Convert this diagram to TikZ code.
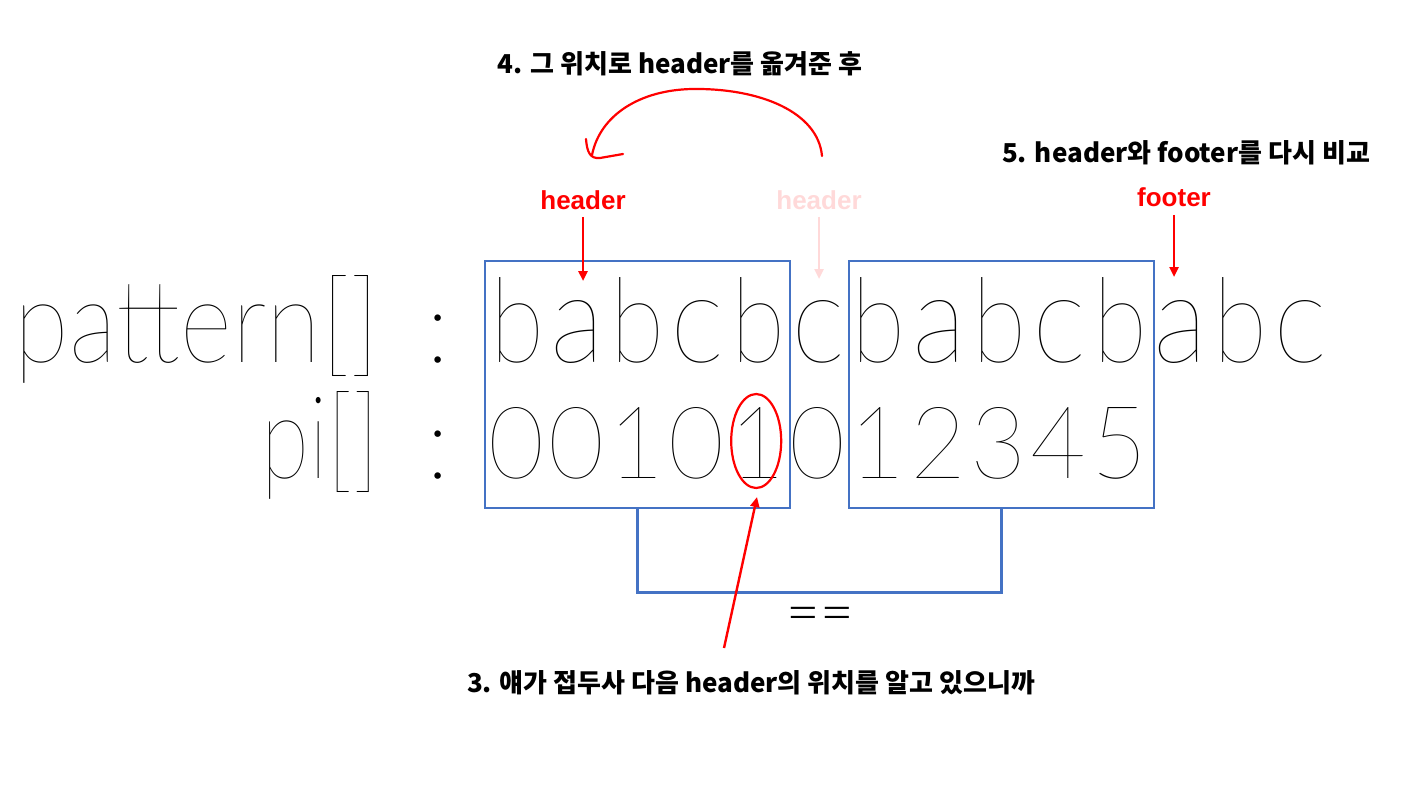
\documentclass[tikz,border=0pt]{standalone}
\usepackage{fontspec}
\usetikzlibrary{arrows.meta}
\IfFontExistsTF{Lato Thin}{\def\thinname{Lato Thin}}{%
  \IfFontExistsTF{Lato Hairline}{\def\thinname{Lato Hairline}}{\def\thinname{Lato Light}}}
\IfFontExistsTF{Lato Light}{\def\lightname{Lato Light}}{\def\lightname{\thinname}}
\newfontfamily\thinfont{\thinname}
\newfontfamily\lightfont{\lightname}
\newfontfamily\kofont{Noto Sans CJK KR}
\setsansfont{Liberation Sans}
\definecolor{boxblue}{HTML}{4472C4}
\definecolor{penred}{HTML}{FF0000}
\definecolor{palered}{HTML}{FFD9D9}
\def\pitch{60.3}
% glyph boxed to a given width and height
\newcommand\sized[3]{\resizebox{#1pt}{#2pt}{#3}}
\tikzset{
big/.style={font=\thinfont\fontsize{100}{100}\selectfont, inner sep=0pt, anchor=base},
note/.style={font=\kofont\bfseries\fontsize{26}{26}\selectfont, inner sep=0pt},
tag/.style={font=\sffamily\bfseries\fontsize{26}{26}\selectfont, text=#1, inner sep=0pt},
pointer/.style={draw=#1, line width=2.4pt, -{Triangle[length=10pt,width=9pt]}},
window/.style={draw=boxblue, line width=2.6pt, minimum width=305pt, minimum height=247pt},
pen/.style={draw=penred, line width=2.2pt, line cap=round, line join=round},
}
\begin{document}
\begin{tikzpicture}[x=1pt, y=-1pt]
	\useasboundingbox (0,0) rectangle (1407,790);
	
	% row labels
	\node[big, anchor=base east] (patlbl) at (379,362) {\sized{364}{87}{pattern[]}};
	\node[big, anchor=base east] (pilbl) at (379,478) {\sized{117}{87}{pi[]}};
	\node[big] (colA) at (438,362) {:};
	\node[big] (colB) at (438,478) {:};
	
	% pattern and pi values
	\foreach \c/\h [count=\i from 0] in {b/85,a/62,b/85,c/62,b/85,c/62,b/85,a/62,b/85,c/62,b/85,a/62,b/85,c/62}
		\node[big] (p\i) at ({517+\pitch*\i},362) {\sized{54}{\h}{\c}};
	\foreach \d [count=\i from 0] in {0,0,1,0,1,0,1,2,3,4,5}
		\node[big] (d\i) at ({516+\pitch*\i},478) {\sized{56}{71}{\d}};
	
	% compared windows
	\node[window] (win1) at (637.5,384.5) {};
	\node[window] (win2) at (1001.5,384.5) {};
	\draw[draw=boxblue, line width=2.6pt] (win1.south) -- ++(0,83) coordinate (bend) -| (win2.south);
	\node[font=\lightfont\fontsize{58}{58}\selectfont, inner sep=0pt] (eq) at (820,620) {==};
	
	% header / footer markers
	\node[tag=penred] (hdr) at (583,200) {header};
	\node[tag=palered] (oldhdr) at (819,200) {header};
	\node[tag=penred] (ftr) at (1174,197) {footer};
	\coordinate (hdrtip) at (583,281);
	\coordinate (oldtip) at (819,279);
	\coordinate (ftrtip) at (1174,277);
	\draw[pointer=penred, shorten <=7pt] (hdr.south) -- (hdrtip);
	\draw[pointer=palered, shorten <=7pt] (oldhdr.south) -- (oldtip);
	\draw[pointer=penred, shorten <=8pt] (ftr.south) -- (ftrtip);
	
	% step notes
	\node[note] (step4) at (680,64) {4. 그 위치로 header를 옮겨준 후};
	\node[note] (step5) at (1186,153) {5. header와 footer를 다시 비교};
	\node[note] (step3) at (751,683) {3. 얘가 접두사 다음 header의 위치를 알고 있으니까};
	
	% handwritten marks
	\coordinate (movefrom) at (822,156);
	\coordinate (moveto) at (592,155);
	\draw[pen] (movefrom) .. controls (818,112) and (760,88) .. (692,89)
		.. controls (640,90) and (600,115) .. (moveto);
	\draw[pen] (586,139) .. controls (587,152) and (590,159) .. (600,158) -- (623,154);
	\draw[pen] (d4.base) ++(-1,-37) ellipse [x radius=25, y radius=47];
	\coordinate (circfoot) at (757,497);
	\coordinate (notefoot) at (724,648);
	\draw[pointer=penred] (notefoot) -- (circfoot);
\end{tikzpicture}
\end{document}
